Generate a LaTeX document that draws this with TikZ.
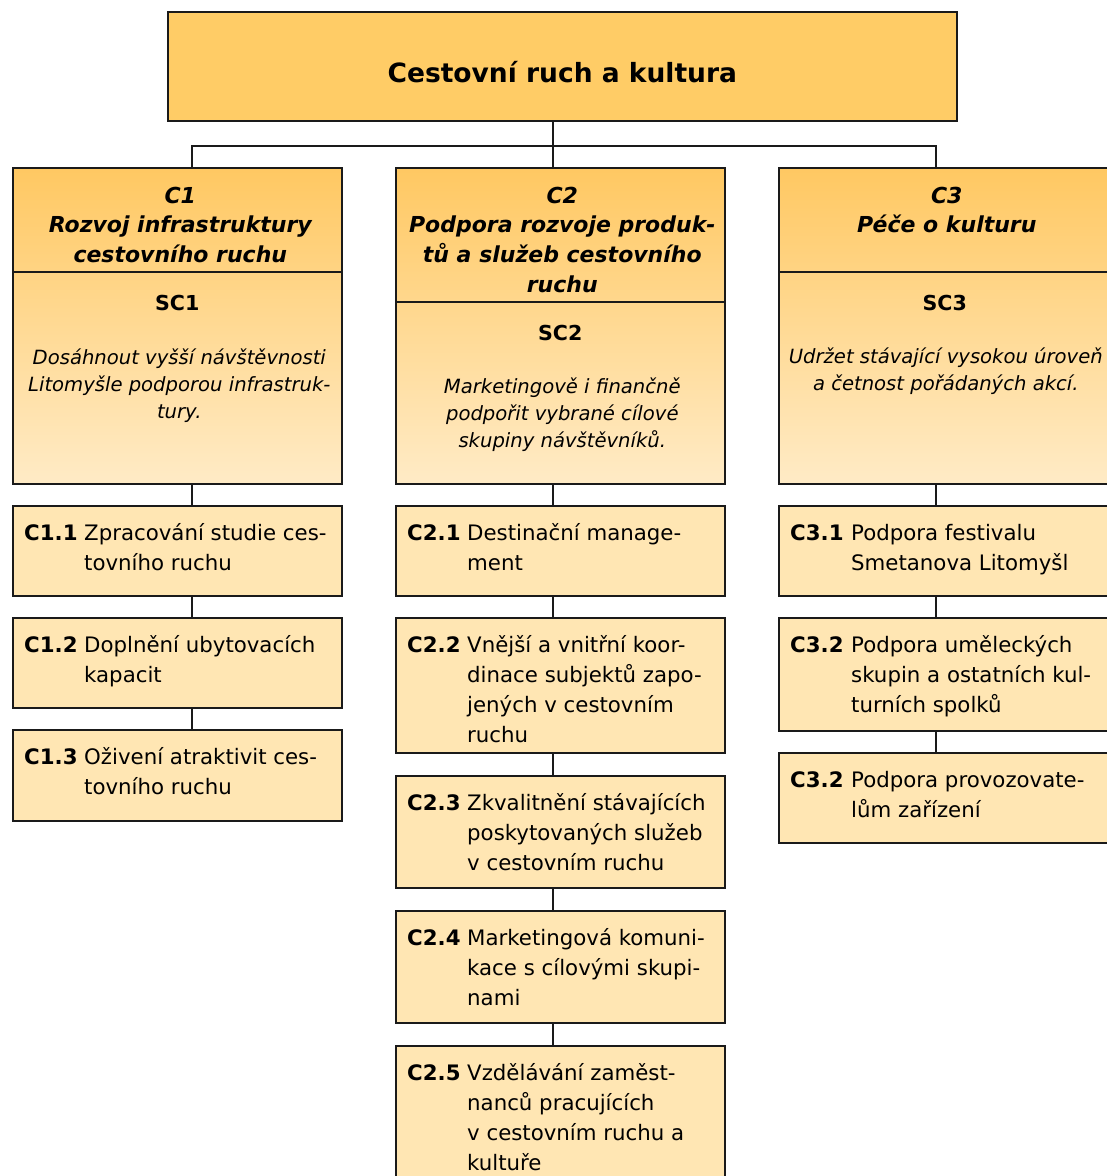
\documentclass[tikz,border=0pt]{standalone}
\usepackage{fontspec}
\setmainfont{DejaVu Sans}
\usetikzlibrary{positioning}

\definecolor{titlefill}{HTML}{FFCC66}
\definecolor{headtop}{HTML}{FFC862}
\definecolor{headbot}{HTML}{FFEBC6}
\definecolor{itemfill}{HTML}{FFE6B3}
\definecolor{linecol}{HTML}{1A1A1A}

\begin{document}
\begin{tikzpicture}[x=1pt,y=-1pt,
      box/.style={draw=linecol,line width=1.6pt,rectangle,inner sep=0pt,anchor=north west},
      headbox/.style={box,top color=headtop,bottom color=headbot,minimum height=316pt},
      itembox/.style={box,fill=itemfill},
      link/.style={draw=linecol,line width=1.6pt},
      titletxt/.style={inner sep=0pt,font=\fontsize{26.5}{32}\selectfont\bfseries},
      headtxt/.style={inner sep=0pt,align=center,font=\fontsize{22}{29.7}\selectfont\bfseries\itshape},
      sctxt/.style={inner sep=0pt,font=\fontsize{20.6}{25}\selectfont\bfseries},
      goaltxt/.style={inner sep=0pt,align=center,font=\fontsize{19.6}{27}\selectfont\itshape},
      labtxt/.style={inner sep=0pt,font=\fontsize{21.3}{30}\selectfont\bfseries},
      itemtxt/.style={inner sep=0pt,align=left,font=\fontsize{21.3}{30}\selectfont},
    ]
    \useasboundingbox (0,0) rectangle (1107,1176);
    \clip (0,0) rectangle (1107,1176);

    % top box
    \node[box,fill=titlefill,minimum width=789pt,minimum height=109pt] (ruch) at (167,11) {};
    \node[titletxt,anchor=base] (ruchtxt) at ([yshift=-71pt]ruch.north) {Cestovní ruch a kultura};

    % column heads
    \node[headbox,minimum width=329pt] (c1) at (12,167) {};
    \node[headbox,minimum width=329pt] (c2) at (395,167) {};
    \node[headbox,minimum width=332pt] (c3) at (778,167) {};
    \draw[link] ([yshift=-105pt]c1.north west) -- ([yshift=-105pt]c1.north east);
    \draw[link] ([yshift=-135pt]c2.north west) -- ([yshift=-135pt]c2.north east);
    \draw[link] ([yshift=-105pt]c3.north west) -- ([yshift=-105pt]c3.north east);

    \node[headtxt,below=14pt of c1.north,xshift=3pt] (c1h) {\rule{0pt}{22pt}C1\\Rozvoj infrastruktury\\cestovního ruchu};
    \node[headtxt,below=14pt of c2.north,xshift=2pt] (c2h) {\rule{0pt}{22pt}C2\\Podpora rozvoje produk-\\tů a služeb cestovního\\ruchu};
    \node[headtxt,below=14pt of c3.north,xshift=2pt] (c3h) {\rule{0pt}{22pt}C3\\Péče o kulturu};

    \node[sctxt,anchor=base] (sc1) at ([yshift=-143pt]c1.north) {SC1};
    \node[sctxt,anchor=base] (sc2) at ([yshift=-173pt]c2.north) {SC2};
    \node[sctxt,anchor=base] (sc3) at ([yshift=-143pt]c3.north) {SC3};

    \node[goaltxt,below=175pt of c1.north,xshift=2pt] (g1) {\rule{0pt}{22pt}Dosáhnout vyšší návštěvnosti\\Litomyšle podporou infrastruk-\\tury.};
    \node[goaltxt,below=204pt of c2.north,xshift=2pt] (g2) {\rule{0pt}{22pt}Marketingově i finančně\\podpořit vybrané cílové\\skupiny návštěvníků.};
    \node[goaltxt,below=174pt of c3.north,xshift=1pt] (g3) {\rule{0pt}{22pt}Udržet stávající vysokou úroveň\\a četnost pořádaných akcí.};

    % column 1
    \node[itembox,minimum width=329pt,minimum height=90pt] (c11) at (12,505) {};
    \node[itembox,minimum width=329pt,minimum height=90pt] (c12) at (12,617) {};
    \node[itembox,minimum width=329pt,minimum height=91pt] (c13) at (12,729) {};
    % column 2
    \node[itembox,minimum width=329pt,minimum height=90pt] (c21) at (395,505) {};
    \node[itembox,minimum width=329pt,minimum height=135pt] (c22) at (395,617) {};
    \node[itembox,minimum width=329pt,minimum height=112pt] (c23) at (395,775) {};
    \node[itembox,minimum width=329pt,minimum height=112pt] (c24) at (395,910) {};
    \node[itembox,minimum width=329pt,minimum height=150pt] (c25) at (395,1045) {};
    % column 3
    \node[itembox,minimum width=332pt,minimum height=90pt] (c31) at (778,505) {};
    \node[itembox,minimum width=332pt,minimum height=113pt] (c32) at (778,617) {};
    \node[itembox,minimum width=332pt,minimum height=90pt] (c33) at (778,752) {};

    \node[labtxt,below right=13pt and 12pt of c11.north west] (c11l) {\rule{0pt}{22pt}C1.1};
    \node[itemtxt,below right=13pt and 72pt of c11.north west] (c11t) {\rule{0pt}{22pt}Zpracování studie ces-\\tovního ruchu};
    \node[labtxt,below right=13pt and 12pt of c12.north west] (c12l) {\rule{0pt}{22pt}C1.2};
    \node[itemtxt,below right=13pt and 72pt of c12.north west] (c12t) {\rule{0pt}{22pt}Doplnění ubytovacích\\kapacit};
    \node[labtxt,below right=13pt and 12pt of c13.north west] (c13l) {\rule{0pt}{22pt}C1.3};
    \node[itemtxt,below right=13pt and 72pt of c13.north west] (c13t) {\rule{0pt}{22pt}Oživení atraktivit ces-\\tovního ruchu};

    \node[labtxt,below right=13pt and 12pt of c21.north west] (c21l) {\rule{0pt}{22pt}C2.1};
    \node[itemtxt,below right=13pt and 72pt of c21.north west] (c21t) {\rule{0pt}{22pt}Destinační manage-\\ment};
    \node[labtxt,below right=13pt and 12pt of c22.north west] (c22l) {\rule{0pt}{22pt}C2.2};
    \node[itemtxt,below right=13pt and 72pt of c22.north west] (c22t) {\rule{0pt}{22pt}Vnější a vnitřní koor-\\dinace subjektů zapo-\\jených v cestovním\\ruchu};
    \node[labtxt,below right=13pt and 12pt of c23.north west] (c23l) {\rule{0pt}{22pt}C2.3};
    \node[itemtxt,below right=13pt and 72pt of c23.north west] (c23t) {\rule{0pt}{22pt}Zkvalitnění stávajících\\poskytovaných služeb\\v cestovním ruchu};
    \node[labtxt,below right=13pt and 12pt of c24.north west] (c24l) {\rule{0pt}{22pt}C2.4};
    \node[itemtxt,below right=13pt and 72pt of c24.north west] (c24t) {\rule{0pt}{22pt}Marketingová komuni-\\kace s cílovými skupi-\\nami};
    \node[labtxt,below right=13pt and 12pt of c25.north west] (c25l) {\rule{0pt}{22pt}C2.5};
    \node[itemtxt,below right=13pt and 72pt of c25.north west] (c25t) {\rule{0pt}{22pt}Vzdělávání zaměst-\\nanců pracujících\\v cestovním ruchu a\\kultuře};

    \node[labtxt,below right=13pt and 12pt of c31.north west] (c31l) {\rule{0pt}{22pt}C3.1};
    \node[itemtxt,below right=13pt and 73pt of c31.north west] (c31t) {\rule{0pt}{22pt}Podpora festivalu\\Smetanova Litomyšl};
    \node[labtxt,below right=13pt and 12pt of c32.north west] (c32l) {\rule{0pt}{22pt}C3.2};
    \node[itemtxt,below right=13pt and 73pt of c32.north west] (c32t) {\rule{0pt}{22pt}Podpora uměleckých\\skupin a ostatních kul-\\turních spolků};
    \node[labtxt,below right=13pt and 12pt of c33.north west] (c33l) {\rule{0pt}{22pt}C3.2};
    \node[itemtxt,below right=13pt and 73pt of c33.north west] (c33t) {\rule{0pt}{22pt}Podpora provozovate-\\lům zařízení};

    % connectors
    \coordinate (s1) at (192,0);
    \coordinate (s2) at (553,0);
    \coordinate (s3) at (936,0);
    \coordinate (hub) at (553,146);
    \draw[link] (ruch.south -| s2) -- (c2.north -| s2);
    \draw[link] (c1.north -| s1) -- (hub -| s1) -- (hub -| s3) -- (c3.north -| s3);
    \foreach \a/\b in {c1/c11,c11/c12,c12/c13}
      \draw[link] (\a.south -| s1) -- (\b.north -| s1);
    \foreach \a/\b in {c2/c21,c21/c22,c22/c23,c23/c24,c24/c25}
      \draw[link] (\a.south -| s2) -- (\b.north -| s2);
    \foreach \a/\b in {c3/c31,c31/c32,c32/c33}
      \draw[link] (\a.south -| s3) -- (\b.north -| s3);
\end{tikzpicture}
\end{document}
